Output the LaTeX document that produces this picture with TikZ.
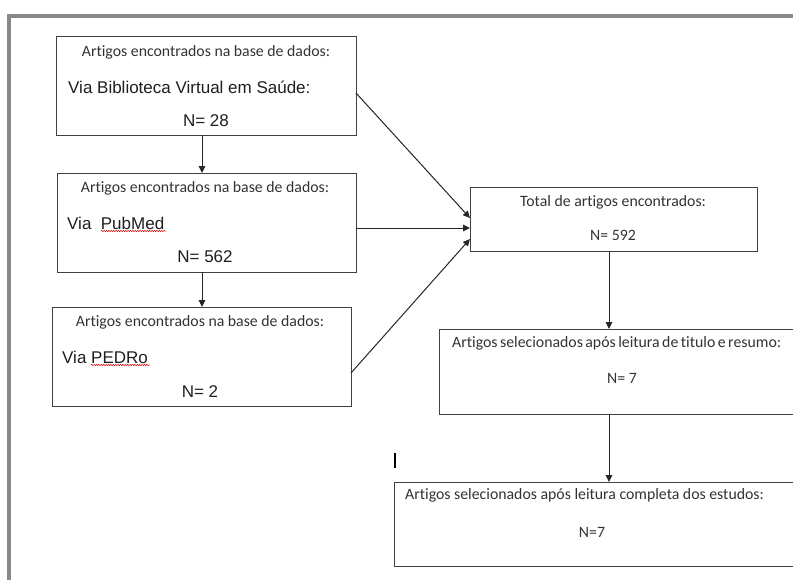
\documentclass[tikz,border=0pt]{standalone}
\usepackage{fontspec}
\setmainfont{Liberation Sans}
\newfontfamily\calfont[Ligatures=NoCommon]{Carlito}
\newcommand\tightwords{\spaceskip 2.5pt\relax}
\usetikzlibrary{arrows.meta,decorations.pathmorphing}
\definecolor{boxgray}{HTML}{404040}
\definecolor{framegray}{HTML}{888888}
\definecolor{titlegray}{HTML}{333333}
\begin{document}
\begin{tikzpicture}[x=1pt,y=-1pt,
 box/.style={draw=boxgray,line width=1pt,inner sep=0pt,outer sep=0pt},
 ttl/.style={font=\calfont\fontsize{15.8}{18}\selectfont,text=titlegray,inner sep=0pt},
 ttltight/.style={font=\calfont\fontsize{15.8}{18}\selectfont\tightwords,text=titlegray,inner sep=0pt},
 via/.style={font=\fontsize{17}{20}\selectfont,text=black!88,inner sep=0pt},
 arr/.style={draw=black!85,line width=1pt,-{Triangle[length=7pt,width=6.5pt]}},
 squig/.style={draw=red!85!black,line width=0.5pt,decorate,decoration={snake,amplitude=0.7pt,segment length=2.4pt}},
 frame/.style={draw=framegray,line width=4pt}]
\useasboundingbox (0,0) rectangle (793,579);
\fill[white] (0,0) rectangle (793,579);
\clip (0,0) rectangle (793,579);
\draw[frame] (9,585) -- (9,16) -- (800,16);

\node[box,minimum width=300pt,minimum height=99pt] (b1) at (206,85.5) {};
\node[box,minimum width=299pt,minimum height=99pt] (b2) at (206.5,222.5) {};
\node[box,minimum width=299pt,minimum height=99pt] (b3) at (201.5,356.5) {};
\node[box,minimum width=287pt,minimum height=64pt] (b4) at (613.5,219) {};
\node[box,minimum width=361pt,minimum height=85pt] (b5) at (619.5,371.5) {};
\node[box,minimum width=406pt,minimum height=84pt] (b6) at (597,524) {};

\node[ttl] (t1) at (206,52) {Artigos encontrados na base de dados:};
\node[via,anchor=west] (v1) at (68,87) {Via Biblioteca Virtual em Saúde:};
\node[via] (n1) at (206,121) {N= 28};

\node[ttl] (t2) at (205,188) {Artigos encontrados na base de dados:};
\node[via,anchor=west] (v2) at (67,223) {Via\ \ PubMed};
\node[via] (n2) at (205,257) {N= 562};

\node[ttl] (t3) at (200,322) {Artigos encontrados na base de dados:};
\node[via,anchor=west] (v3) at (62,357) {Via PEDRo};
\node[via] (n3) at (200,392) {N= 2};

\node[ttl] (t4) at (613,202) {Total de artigos encontrados:};
\node[ttl] (n4) at (613,235) {N= 592};

\node[ttltight,anchor=west] (t5) at (452,343) {Artigos selecionados após leitura de titulo e resumo:};
\node[ttl] (n5) at (622,378) {N= 7};

\node[ttl,anchor=west] (t6) at (405,495) {Artigos selecionados após leitura completa dos estudos:};
\node[ttl] (n6) at (592,532) {N=7};

\draw[squig] (101,231) -- (166,231);
\draw[squig] (91,365) -- (150,365);
\draw[line width=2pt] (395,453) -- (395,468);

\draw[arr] ([xshift=-4pt]b1.south) -- ([xshift=-4pt]b1.south |- b2.north);
\draw[arr] ([xshift=-4.5pt]b2.south) -- ([xshift=-4.5pt]b2.south |- b3.north);
\draw[arr] ([yshift=-7.5pt]b1.east) -- ([yshift=1pt]b4.west);
\draw[arr] ([yshift=-5.5pt]b2.east) -- ([yshift=-9pt]b4.west);
\draw[arr] ([yshift=-16.5pt]b3.east) -- ([yshift=-20pt]b4.west);
\draw[arr] ([xshift=-4.5pt]b4.south) -- ([xshift=-4.5pt]b4.south |- b5.north);
\draw[arr] ([xshift=-10.5pt]b5.south) -- ([xshift=-10.5pt]b5.south |- b6.north);
\end{tikzpicture}
\end{document}
